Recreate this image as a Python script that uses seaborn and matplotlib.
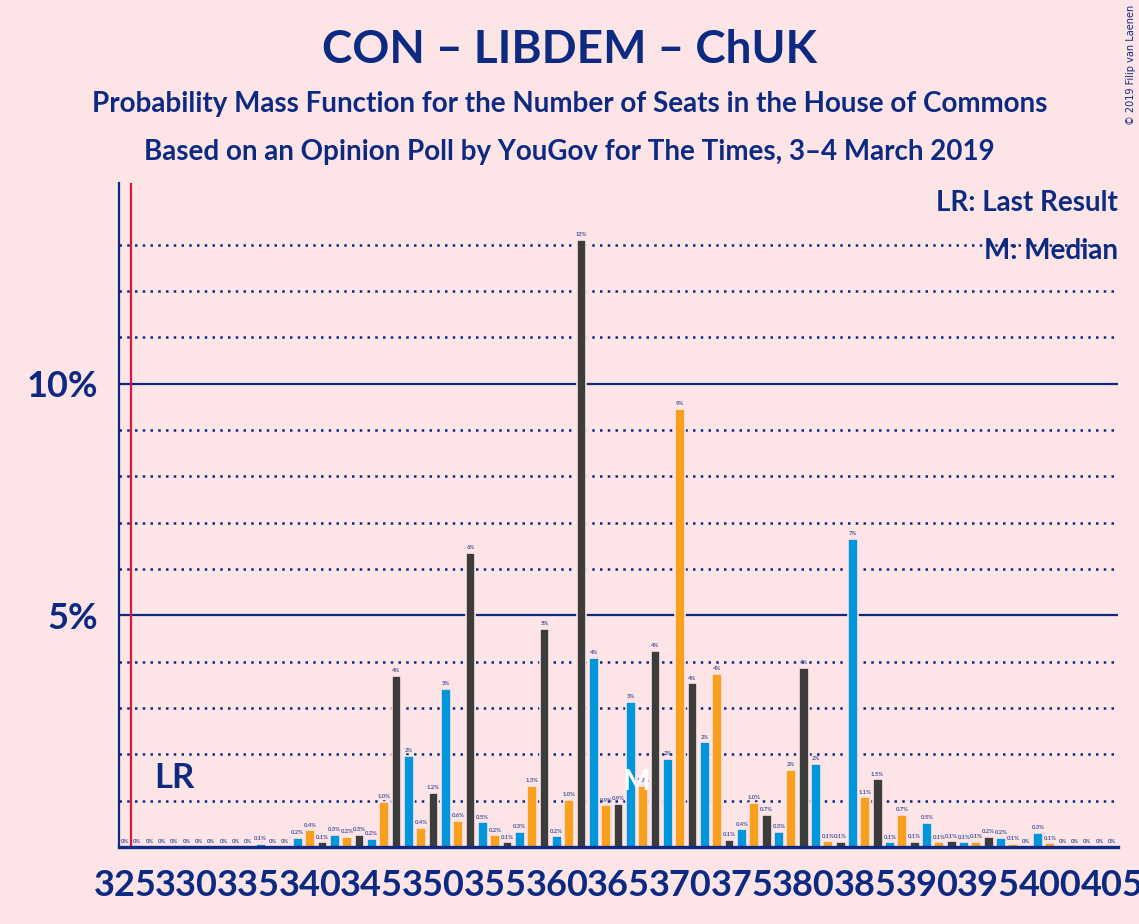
import matplotlib
matplotlib.use("Agg")
import matplotlib.pyplot as plt
import seaborn as sns
import numpy as np
import pandas as pd

# ---- data ----
seats = list(range(325, 406))
probs = [
    0, 0, 0, 0.01, 0, 0, 0, 0, 0, 0,          # 325-334
    0, 0.06, 0, 0, 0.2, 0.36, 0.1, 0.27, 0.22, 0.27,   # 335-344
    0.17, 0.97, 3.7, 1.97, 0.42, 1.17, 3.41, 0.57, 6.35, 0.53,  # 345-354
    0.25, 0.1, 0.32, 1.32, 4.7, 0.23, 1.02, 13.1, 4.08, 0.9,   # 355-364
    0.93, 3.14, 1.32, 4.24, 1.9, 9.45, 3.53, 2.26, 3.74, 0.15,  # 365-374
    0.38, 0.96, 0.7, 0.33, 1.66, 3.86, 1.79, 0.12, 0.11, 6.65, # 375-384
    1.07, 1.46, 0.1, 0.7, 0.11, 0.52, 0.1, 0.12, 0.1, 0.11,    # 385-394
    0.22, 0.2, 0.07, 0, 0.3, 0.08, 0, 0, 0, 0, 0,             # 395-405
]
groups = ["blue", "orange", "dark"]          # colour cycle by seat mod 3
palette = {"blue": "#0096db", "orange": "#f9a11f", "dark": "#3c3c3c"}
last_result = 325.46
median_seat = 366.45
xtick_values = list(range(325, 406, 5))
ytick_values = [5, 10]

NAVY = "#0c2a82"
BG = "#fde4e7"

df = pd.DataFrame({"seat": seats, "prob": probs})
df["grp"] = [groups[s % 3] for s in df["seat"]]

sns.set_theme(style="white")
plt.rcParams["font.family"] = ["Lato", "DejaVu Sans"]

fig = plt.figure(figsize=(11.39, 9.24), dpi=100)
fig.patch.set_facecolor(BG)
ax = fig.add_axes([0.1045, 0.0833, 0.9816 - 0.1045, 0.802 - 0.0833])
ax.set_facecolor(BG)

# gridlines
for v in range(1, 14):
    if v in (5, 10):
        ax.axhline(v, color=NAVY, lw=1.6, zorder=1)
    else:
        ax.axhline(v, color=NAVY, lw=1.8, linestyle=(0, (1, 2.1)), zorder=1)

sns.barplot(data=df, x="seat", y="prob", hue="grp", palette=palette,
            native_scale=True, dodge=False, width=0.8, errorbar=None,
            saturation=1, legend=False, ax=ax, zorder=3,
            edgecolor=BG, linewidth=1.2)

def fmt(v):
    if v < 0.05:
        return "0%"
    if v < 1.5:
        return f"{v:.1f}%"
    return f"{v:.0f}%"

for s, v in zip(seats, probs):
    ax.text(s, v + 0.06, fmt(v), ha="center", va="bottom", fontsize=4.2,
            color="#45559a", fontweight="bold", zorder=4)

ax.axvline(last_result, color="#d7193c", lw=1.6, zorder=5)
ax.text(327.4, 1.49, "LR", ha="left", va="center", fontsize=25,
        fontweight="bold", color=NAVY, zorder=5)
ax.text(median_seat, 1.4, "M", ha="center", va="center", fontsize=21,
        fontweight="bold", color="white", zorder=6)

ax.set_xlim(324.51, 405.49)
ax.set_ylim(0, 14.33)
ax.set_xticks(xtick_values)
ax.set_xticklabels([str(v) for v in xtick_values])
ax.set_yticks(ytick_values)
ax.set_yticklabels([f"{v}%" for v in ytick_values])
ax.tick_params(axis="x", length=0, pad=16, labelsize=26, labelcolor=NAVY)
ax.tick_params(axis="y", length=0, pad=15, labelsize=26, labelcolor=NAVY)
for lab in ax.get_xticklabels() + ax.get_yticklabels():
    lab.set_fontweight("bold")
ax.set_xlabel("")
ax.set_ylabel("")
for side in ("top", "right"):
    ax.spines[side].set_visible(False)
ax.spines["left"].set_color(NAVY)
ax.spines["left"].set_linewidth(1.6)
ax.spines["bottom"].set_color(NAVY)
ax.spines["bottom"].set_linewidth(2.4)
ax.spines["left"].set_zorder(6)
ax.spines["bottom"].set_zorder(6)

ax.text(0.9995, 0.97, "LR: Last Result", transform=ax.transAxes, ha="right",
        va="center", fontsize=20, fontweight="bold", color=NAVY, zorder=7)
ax.text(0.9995, 0.898, "M: Median", transform=ax.transAxes, ha="right",
        va="center", fontsize=20, fontweight="bold", color=NAVY, zorder=7)

fig.text(0.5, 1 - 50 / 924, "CON – LIBDEM – ChUK", ha="center", va="center",
         fontsize=33, fontweight="bold", color=NAVY)
fig.text(0.5, 1 - 104 / 924,
         "Probability Mass Function for the Number of Seats in the House of Commons",
         ha="center", va="center", fontsize=20, fontweight="bold", color=NAVY)
fig.text(0.5, 1 - 152 / 924,
         "Based on an Opinion Poll by YouGov for The Times, 3–4 March 2019",
         ha="center", va="center", fontsize=20, fontweight="bold", color=NAVY)
fig.text(1 - 8 / 1139, 1 - 5 / 924, "© 2019 Filip van Laenen", rotation=90,
         ha="center", va="top", fontsize=7, color=NAVY,
         family=["DejaVu Sans"])

fig.savefig("out.png", dpi=100, facecolor=BG)
